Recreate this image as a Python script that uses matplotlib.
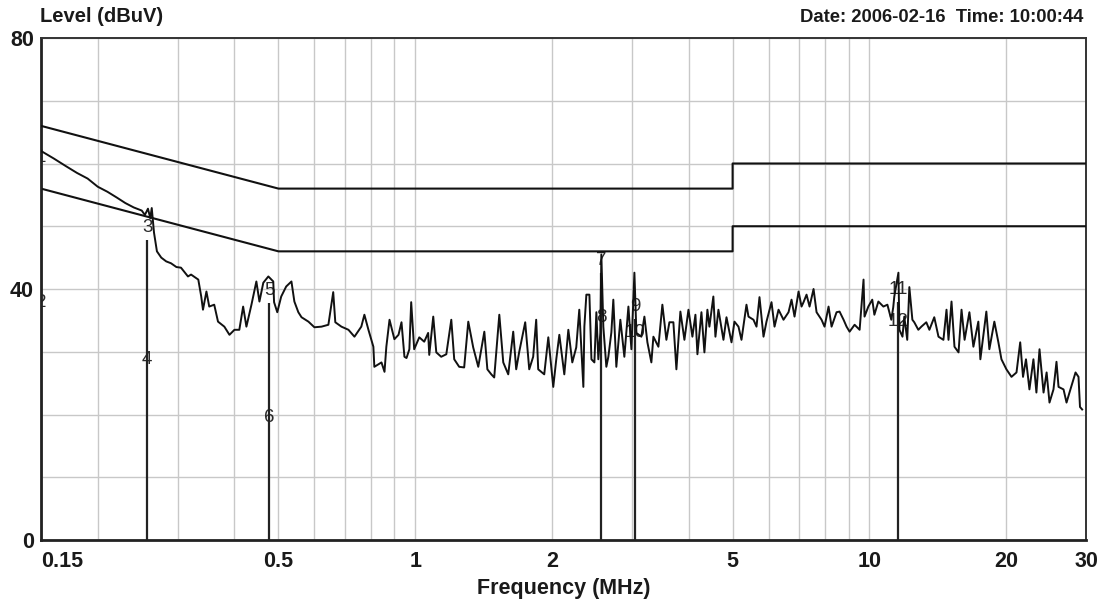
import matplotlib
matplotlib.use("Agg")
import matplotlib.pyplot as plt
from matplotlib.ticker import FixedLocator, NullFormatter

plt.rcParams['font.family'] = ['Liberation Sans', 'DejaVu Sans']

# measured trace, frequency in MHz, level in dBuV
freq_mhz = [
    0.150, 0.160, 0.170, 0.180, 0.190, 0.200, 0.210, 0.220, 0.230, 0.240,
    0.250, 0.254, 0.258, 0.261, 0.263, 0.266, 0.270, 0.276, 0.283, 0.290,
    0.298, 0.305, 0.316, 0.321, 0.333, 0.338, 0.341, 0.347, 0.352, 0.361,
    0.368, 0.380, 0.390, 0.400, 0.410, 0.418, 0.425, 0.436, 0.447, 0.454,
    0.463, 0.475, 0.487, 0.489, 0.497, 0.507, 0.520, 0.534, 0.542, 0.553,
    0.562, 0.582, 0.600, 0.622, 0.644, 0.660, 0.667, 0.688, 0.713, 0.735,
    0.761, 0.773, 0.789, 0.809, 0.813, 0.843, 0.856, 0.864, 0.878, 0.900,
    0.919, 0.933, 0.947, 0.957, 0.971, 0.980, 0.995,
    1.021, 1.047, 1.068, 1.074, 1.096, 1.113, 1.141, 1.171, 1.201, 1.219,
    1.250, 1.282, 1.309, 1.342, 1.377, 1.420, 1.442, 1.471, 1.493, 1.532,
    1.563, 1.603, 1.644, 1.669, 1.695, 1.747, 1.783, 1.819, 1.847, 1.866,
    1.924, 1.964, 2.014, 2.045, 2.077, 2.130, 2.174, 2.218, 2.263, 2.298,
    2.346, 2.358, 2.382, 2.419, 2.444, 2.481, 2.506, 2.531, 2.557, 2.570,
    2.596, 2.636, 2.663, 2.704, 2.731, 2.773, 2.830, 2.888, 2.948, 2.993,
    3.039, 3.070, 3.148, 3.197, 3.246, 3.312, 3.346, 3.432, 3.502, 3.574,
    3.629, 3.703, 3.760, 3.837, 3.916, 3.997, 4.078, 4.141, 4.183, 4.269,
    4.334, 4.400, 4.445, 4.535, 4.583, 4.653, 4.773, 4.847, 4.972, 5.047,
    5.151, 5.230, 5.364, 5.419, 5.558, 5.644, 5.730, 5.848, 5.937, 6.090,
    6.184, 6.311, 6.472, 6.639, 6.741, 6.844, 6.985, 7.092, 7.164, 7.274,
    7.386, 7.537, 7.653, 7.849, 7.969, 8.133, 8.258, 8.470, 8.600, 8.776,
    8.911, 9.048, 9.281, 9.520, 9.711, 9.760, 9.950,
    10.15, 10.26, 10.47, 10.74, 10.96, 11.18, 11.29, 11.35, 11.59, 11.65,
    11.83, 11.94, 12.12, 12.25, 12.44, 12.56, 12.82, 13.02, 13.35, 13.56,
    13.90, 14.20, 14.56, 14.79, 14.94, 15.17, 15.40, 15.72, 15.96, 16.21,
    16.61, 16.95, 17.38, 17.56, 18.10, 18.38, 18.85, 19.24, 19.54, 20.04,
    20.56, 21.09, 21.49, 21.80, 22.13, 22.52, 22.98, 23.33, 23.70, 24.19,
    24.57, 24.93, 25.44, 25.83, 26.10, 26.77, 27.18, 27.59, 28.45, 28.88,
    29.10, 29.42,
]
level_dbuv = [
    62.0, 60.8, 59.6, 58.5, 57.6, 56.3, 55.5, 54.6, 53.7, 53.0,
    52.5, 51.8, 52.8, 51.3, 52.9, 49.0, 46.0, 45.0, 44.4, 44.1,
    43.5, 43.4, 42.0, 42.3, 41.5, 38.8, 36.7, 39.6, 37.2, 37.5,
    34.8, 34.0, 32.7, 33.5, 33.5, 37.2, 34.0, 37.5, 41.2, 38.0,
    41.0, 42.0, 41.2, 37.9, 36.3, 38.8, 40.4, 41.2, 38.0, 36.3,
    35.5, 34.8, 33.9, 34.0, 34.3, 39.5, 34.7, 34.0, 33.5, 32.4,
    34.0, 35.9, 33.5, 30.8, 27.6, 28.3, 26.8, 30.8, 35.1, 32.0,
    32.7, 34.7, 29.2, 29.0, 30.4, 37.9, 30.4,
    32.3, 31.6, 33.0, 29.5, 35.6, 29.9, 29.2, 29.6, 35.1, 28.8,
    27.6, 27.5, 34.8, 30.7, 27.6, 33.2, 27.2, 26.4, 25.9, 35.9,
    28.3, 26.4, 33.2, 27.2, 30.0, 34.7, 27.2, 29.2, 35.1, 27.2,
    26.4, 32.3, 24.4, 28.8, 32.7, 26.4, 33.5, 28.3, 30.7, 36.7,
    24.4, 34.0, 39.1, 39.1, 28.8, 28.3, 36.3, 28.8, 33.0, 45.5,
    34.0, 27.6, 29.2, 33.1, 38.3, 27.6, 35.1, 29.2, 37.2, 30.4,
    42.6, 33.0, 32.4, 35.6, 31.5, 28.3, 32.4, 30.8, 37.5, 31.9,
    34.7, 34.7, 27.2, 36.4, 31.9, 36.7, 32.4, 35.9, 29.6, 36.3,
    29.9, 36.7, 34.0, 38.8, 32.4, 36.7, 31.9, 35.5, 31.5, 34.8,
    34.0, 31.9, 37.5, 35.6, 35.1, 34.0, 38.7, 32.4, 34.8, 37.9,
    34.0, 36.7, 35.1, 36.3, 38.3, 35.6, 39.6, 37.2, 37.9, 39.1,
    37.2, 40.0, 36.3, 35.1, 34.0, 37.2, 34.0, 36.3, 36.4, 35.1,
    34.0, 33.2, 34.3, 33.5, 41.5, 35.6, 37.2,
    38.3, 35.9, 38.0, 37.2, 37.5, 35.1, 37.1, 38.8, 42.6, 33.5,
    32.4, 35.6, 31.9, 40.3, 35.1, 34.7, 33.5, 34.0, 34.7, 33.5,
    35.5, 32.4, 31.9, 36.7, 31.9, 38.0, 30.8, 29.9, 36.7, 31.9,
    36.3, 30.8, 34.8, 28.8, 36.4, 30.4, 34.8, 31.5, 28.8, 27.2,
    26.0, 26.7, 31.5, 26.0, 28.8, 24.0, 28.8, 23.5, 30.4, 23.5,
    26.7, 21.9, 24.0, 28.4, 24.4, 24.0, 21.9, 23.5, 26.7, 26.0,
    21.2, 20.8,
]

# limit lines (QP upper, AV lower)
limit_f = [0.15, 0.5, 5, 5, 30]
qp_limit = [66, 56, 56, 60, 60]
av_limit = [56, 46, 46, 50, 50]

# markers: odd numbers = QP reading, even numbers = AV reading
marker_f = [0.150, 0.257, 0.477, 2.570, 3.054, 11.59]
marker_qp = [61.0, 49.8, 39.8, 44.6, 37.2, 40.0]
marker_av = [37.9, 28.7, 19.6, 35.5, 33.0, 34.8]
qp_names = ['1', '3', '5', '7', '9', '11']
av_names = ['2', '4', '6', '8', '10', '12']

x_ticks = [0.15, 0.5, 1, 2, 5, 10, 20, 30]
x_tick_labels = ['0.15', '0.5', '1', '2', '5', '10', '20', '30']
x_minor = [0.2, 0.3, 0.4, 0.6, 0.7, 0.8, 0.9, 3, 4, 6, 7, 8, 9]
y_ticks = [0, 40, 80]
y_minor = [10, 20, 30, 50, 60, 70]

fig = plt.figure(figsize=(11.04, 6.0), dpi=100)
ax = fig.add_axes([41 / 1104, 60 / 600, 1045 / 1104, 502 / 600])

ax.set_xscale('log')
ax.set_xlim(0.15, 30)
ax.set_ylim(0, 80)

ax.xaxis.set_major_locator(FixedLocator(x_ticks))
ax.set_xticklabels(x_tick_labels)
ax.xaxis.set_minor_locator(FixedLocator(x_minor))
ax.xaxis.set_minor_formatter(NullFormatter())
ax.yaxis.set_major_locator(FixedLocator(y_ticks))
ax.yaxis.set_minor_locator(FixedLocator(y_minor))

ax.grid(True, which='both', color='#c8c8c8', lw=1.0, zorder=0)
ax.set_axisbelow(True)
ax.tick_params(which='both', length=0)
ax.tick_params(axis='x', pad=8, labelsize=15.5, labelcolor='#1a1a1a')
ax.tick_params(axis='y', pad=5, labelsize=15.5, labelcolor='#1a1a1a')
for lab in ax.get_xticklabels() + ax.get_yticklabels():
    lab.set_fontweight('bold')
ax.get_xticklabels()[0].set_horizontalalignment('left')

for side in ['left', 'bottom']:
    ax.spines[side].set_linewidth(2.0)
    ax.spines[side].set_color('#222222')
for side in ['top', 'right']:
    ax.spines[side].set_linewidth(1.4)
    ax.spines[side].set_color('#333333')

ax.plot(limit_f, qp_limit, color='#111111', lw=1.5, zorder=3)
ax.plot(limit_f, av_limit, color='#111111', lw=1.5, zorder=3)

for f, q, a, qn, an in zip(marker_f, marker_qp, marker_av, qp_names, av_names):
    ax.vlines(f, 0, q - 2, color='#222222', lw=1.6, zorder=3)
    ax.text(f, q, qn, ha='center', va='center', fontsize=13.5,
            color='#2a2a2a', zorder=2, clip_on=True)
    ax.text(f, a, an, ha='center', va='center', fontsize=13.5,
            color='#2a2a2a', zorder=2, clip_on=True)

ax.plot(freq_mhz, level_dbuv, color='#111111', lw=1.4, zorder=4)

ax.set_xlabel('Frequency (MHz)', fontsize=15.5, fontweight='bold',
              color='#1a1a1a', labelpad=4)
fig.text(40 / 1104, 1 - 17 / 600, 'Level (dBuV)', ha='left', va='center',
         fontsize=14.5, fontweight='bold', color='#1a1a1a')
fig.text(1083 / 1104, 1 - 17 / 600, 'Date: 2006-02-16  Time: 10:00:44',
         ha='right', va='center', fontsize=13.3, fontweight='bold',
         color='#1a1a1a')

fig.savefig('out.png', dpi=100)
